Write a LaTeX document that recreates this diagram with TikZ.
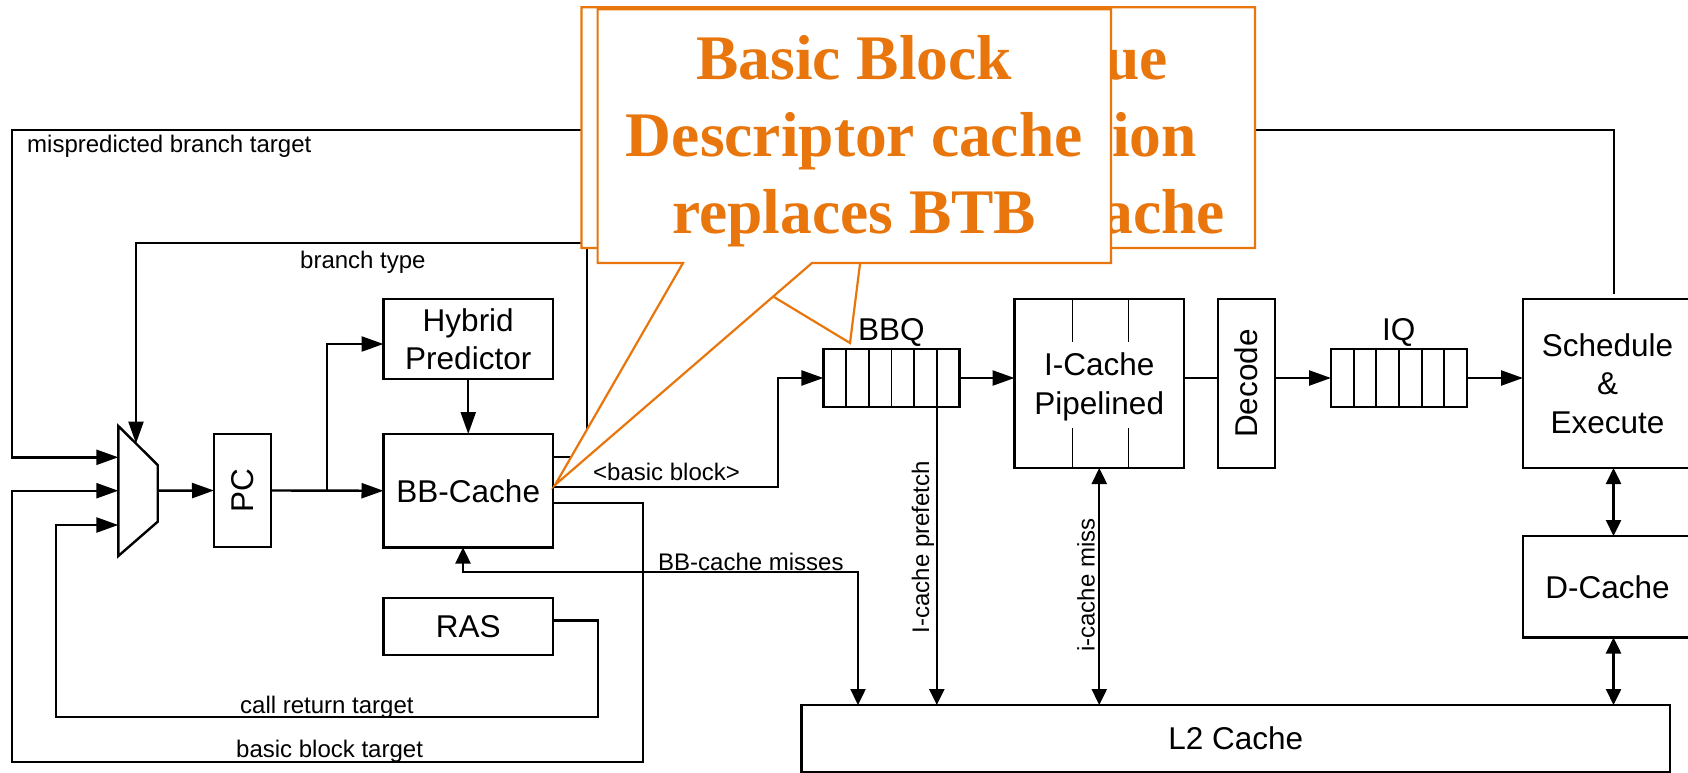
\documentclass[tikz,border=0pt]{standalone}
\usepackage{fontspec}
\setmainfont{Liberation Sans}
\newfontfamily\callfont{Liberation Serif}
\usetikzlibrary{arrows.meta}
\definecolor{callorange}{RGB}{232,118,12}
\tikzset{
  wire/.style={line width=2.4pt, line join=miter},
  thinwire/.style={line width=1.7pt},
  blk/.style={draw, line width=2.4pt, fill=white, inner sep=0pt, outer sep=0pt, align=center, font=\fontsize{31.5}{38.5}\selectfont},
  lbl/.style={inner sep=0pt, font=\fontsize{24}{28}\selectfont},
  blbl/.style={inner sep=0pt, font=\fontsize{31.5}{38.5}\selectfont},
  bigtip/.style={-{Triangle[length=22pt,width=15pt]}},
  smalltip/.style={-{Triangle[length=16pt,width=15pt]}},
  dbltip/.style={{Triangle[length=16pt,width=15pt]}-{Triangle[length=16pt,width=15pt]}},
  callout/.style={draw=callorange, line width=2.2pt, fill=white, line join=miter},
  calltext/.style={inner sep=0pt, text=callorange, font=\callfont\bfseries\fontsize{63.5}{76.5}\selectfont},
}
\begin{document}
\begin{tikzpicture}[x=1pt,y=-1pt]
\useasboundingbox (0,0) rectangle (1688,773);
\fill[white] (0,0) rectangle (1688,773);
\clip (0,0) rectangle (1688,773);

% ---------- blocks ----------
\node[blk, minimum width=169.5pt, minimum height=80pt]    (hyb)    at (468.25,339)   {Hybrid\\Predictor};
\node[blk, minimum width=169.5pt, minimum height=113.5pt] (bbc)    at (468.25,490.75) {BB-Cache};
\node[blk, minimum width=169.5pt, minimum height=57pt]    (ras)    at (468.25,626.5) {RAS};
\node[blk, minimum width=57pt, minimum height=113pt]      (pc)     at (242.5,490.5)  {\rotatebox{90}{PC}};
\node[blk, minimum width=136.1pt, minimum height=57.7pt]  (bbq)    at (891.45,378)   {};
\node[blk, minimum width=169.5pt, minimum height=169pt, text depth=0pt] (icache) at (1099.25,383.5) {I-Cache\\Pipelined};
\node[blk, minimum width=57pt, minimum height=169pt]      (decode) at (1246.5,383.5) {\rotatebox{90}{Decode}};
\node[blk, minimum width=136pt, minimum height=57.7pt]    (iq)     at (1399,378)     {};
\node[blk, minimum width=169pt, minimum height=169pt]     (sched)  at (1607.5,383.5) {Schedule\\\&\\Execute};
\node[blk, minimum width=169pt, minimum height=101.5pt]   (dcache) at (1607.5,586.75) {D-Cache};
\node[blk, minimum width=868.6pt, minimum height=67pt]    (l2)     at (1235.7,738.5) {L2 Cache};

% queue cells
\foreach \x in {846.1,868.8,891.4,914.1,936.8} \draw[thinwire] (\x,349.15) -- (\x,406.85);
\foreach \x in {1353.7,1376.3,1399,1421.7,1444.3} \draw[thinwire] (\x,349.15) -- (\x,406.85);
% pipeline stage marks in the I-cache
\foreach \x in {1072.4,1128.6} {
  \draw[thinwire] (\x,299) -- (\x,341.7);
  \draw[thinwire] (\x,428) -- (\x,468);
}

% queue labels
\node[blbl, anchor=base west] (lbbq) at (858,340.5) {BBQ};
\node[blbl, anchor=base west] (liq)  at (1382,340.5) {IQ};

% ---------- selector (mux) ----------
\coordinate (m1) at (118.3,426);
\coordinate (m2) at (157.7,465);
\coordinate (m3) at (157.7,521.7);
\coordinate (m4) at (118.3,556);
\draw[wire, fill=white] (m1) -- (m2) -- (m3) -- (m4) -- cycle;
\coordinate (muxA) at (118.3,457.3);
\coordinate (muxB) at (118.3,490.7);
\coordinate (muxC) at (118.3,525);
\coordinate (muxO) at (157.7,490.7);
\coordinate (muxT) at (136,443.5);

% ---------- ports ----------
\coordinate (mpTop) at (1614,293.5);
\coordinate (bbcT) at (553,457);
\coordinate (bbcB) at (553,486.7);
\coordinate (bbcC) at (553,503);
\coordinate (bbcS) at (463,547.5);
\coordinate (rasO) at (553,620.5);
\coordinate (pcBr) at (327,490.7);
\coordinate (hybIn) at (383.5,344);
\coordinate (bbqD) at (936.8,406.7);
\coordinate (l2a) at (858,705);
\coordinate (l2b) at (936.8,705);
\coordinate (schD) at (1613.5,468);
\coordinate (dcU) at (1613.5,536);
\coordinate (dcD) at (1613.5,637.5);
\coordinate (l2d) at (1613.5,705);

% ---------- connectors ----------
% mispredicted branch target
\draw[wire, bigtip] (mpTop) -- (1614,130) -- (11.7,130) -- (11.7,457.3) -- (muxA);
% branch type
\draw[wire, bigtip] (bbcT) -- (587,457) -- (587,243) -- (136,243) -- (muxT);
% basic block target
\draw[wire, bigtip] (bbcC) -- (643,503) -- (643,762) -- (11.7,762) -- (11.7,490.7) -- (muxB);
% call return target
\draw[wire, bigtip] (rasO) -- (598,620.5) -- (598,717) -- (56,717) -- (56,525) -- (muxC);
% mux -> PC -> BB-cache
\draw[wire, bigtip] (muxO) -- (pc.west);
\draw[wire, bigtip] (pc.east) -- (bbc.west);
\draw[wire, bigtip] (pcBr) -- (327,344) -- (hybIn);
\draw[wire, bigtip] (hyb.south) -- (bbc.north);
% basic block -> BBQ
\draw[wire, bigtip] (bbcB) -- (778,486.7) -- (778,378) -- (bbq.west);
% pipeline
\draw[wire, bigtip] (bbq.east) -- (bbq.east -| icache.west);
\draw[wire] (icache.east |- bbq.east) -- (decode.west |- bbq.east);
\draw[wire, bigtip] (decode.east |- iq.west) -- (iq.west);
\draw[wire, bigtip] (iq.east) -- (iq.east -| sched.west);
% memory side
\draw[wire, dbltip] (bbcS) -- (463,572) -- (858,572) -- (l2a);
\draw[wire, smalltip] (bbqD) -- (l2b);
\draw[wire, dbltip] (icache.south) -- (icache.south |- l2.north);
\draw[wire, dbltip] (schD) -- (dcU);
\draw[wire, dbltip] (dcD) -- (l2d);

% ---------- labels ----------
\node[lbl, anchor=base west] (lmis) at (27,152.5) {mispredicted branch target};
\node[lbl, anchor=base west] (lbt)  at (300,268)  {branch type};
\node[lbl, anchor=base west] (lbb)  at (593,480.5) {<basic block>};
\node[lbl, anchor=base west] (lbbt) at (236,757)  {basic block target};
\node[lbl, anchor=base west] (lcrt) at (240,713.5) {call return target};
\node[lbl, anchor=base west] (lbbm) at (658,570.5) {BB-cache misses};
\node[lbl, rotate=90] (lpre) at (923,547) {I-cache prefetch};
\node[lbl, rotate=90] (lmiss) at (1086,585) {i-cache miss};

% ---------- callouts ----------
\draw[callout] (581.5,7.3) -- (1255,7.3) -- (1255,248) -- (862,248) -- (850,343) -- (693,248) -- (581.5,248) -- cycle;
\node[calltext, anchor=base east] (bq1) at (1168,80)  {ue};
\node[calltext, anchor=base east] (bq2) at (1197,156.5) {ion};
\node[calltext, anchor=base east] (bq3) at (1225,233) {ache};

\draw[callout] (597.6,9.3) -- (1111,9.3) -- (1111,263) -- (812,263) -- (555,485) -- (683,263) -- (597.6,263) -- cycle;
\node[calltext, anchor=base] (c1) at (854.3,80)    {Basic Block};
\node[calltext, anchor=base] (c2) at (854.3,156.5) {Descriptor cache};
\node[calltext, anchor=base] (c3) at (854.3,233)   {replaces BTB};
\end{tikzpicture}
\end{document}
